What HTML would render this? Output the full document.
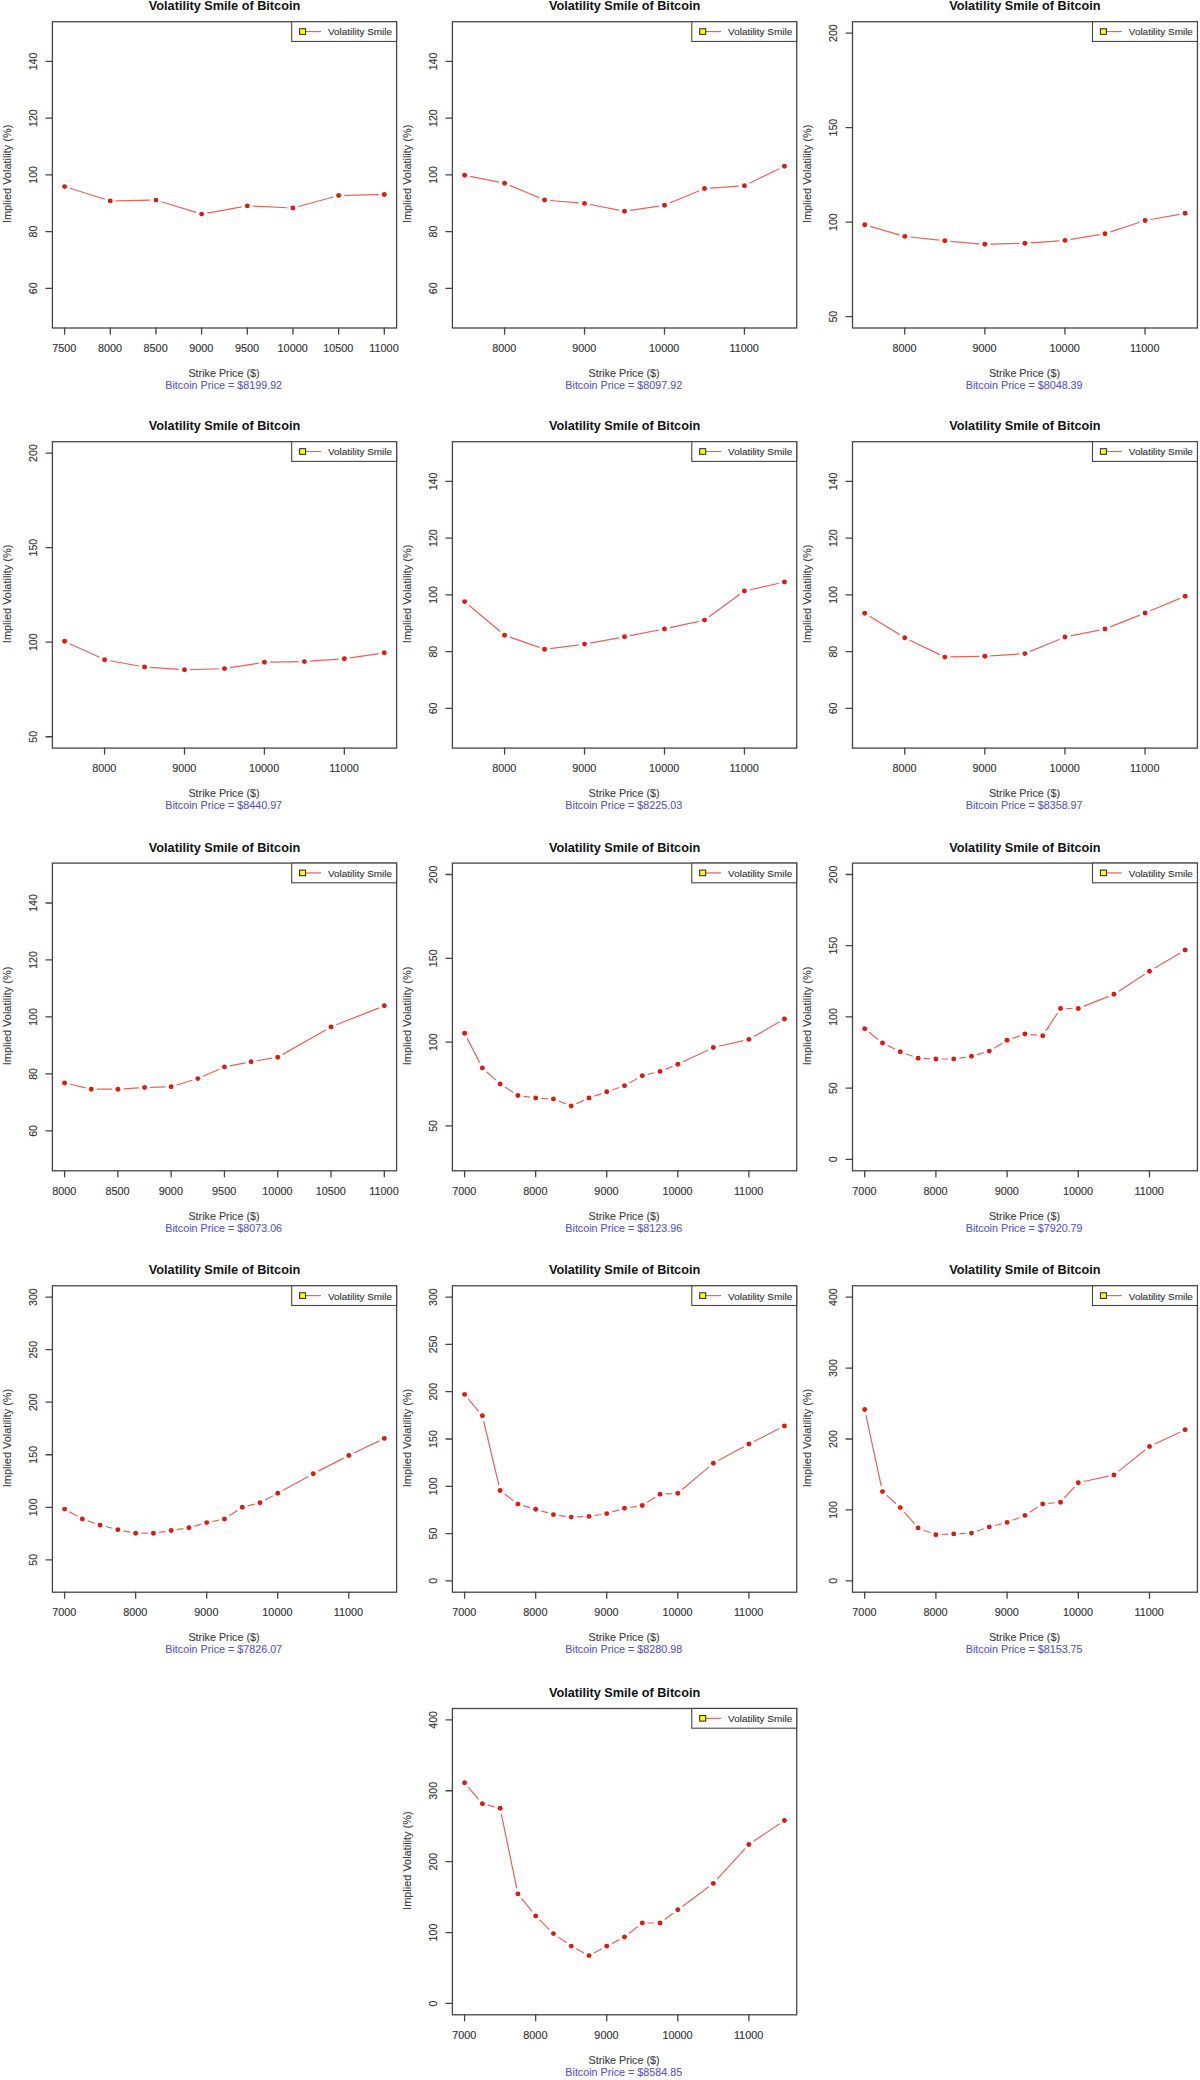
<!DOCTYPE html>
<html><head><meta charset="utf-8"><title>Volatility Smile of Bitcoin</title>
<style>
html,body{margin:0;padding:0;background:#fff;}
body{width:1200px;height:2080px;overflow:hidden;}
svg{display:block;}
text{font-family:"Liberation Sans",sans-serif;}
.t{font-size:12.7px;font-weight:bold;fill:#111111;text-anchor:middle;}
.nx{font-size:10.85px;fill:#333333;stroke:#333333;stroke-width:0.15px;text-anchor:middle;}
.n{font-size:10.65px;fill:#333333;stroke:#333333;stroke-width:0.15px;text-anchor:middle;}
.lb{font-size:10.75px;fill:#404040;stroke:#404040;stroke-width:0.12px;text-anchor:middle;}
.sb{font-size:10.75px;fill:#5858c2;stroke:#5858c2;stroke-width:0.1px;text-anchor:middle;}
.yl{font-size:10.95px;fill:#404040;stroke:#404040;stroke-width:0.12px;text-anchor:middle;}
.le{font-size:9.95px;fill:#333333;stroke:#333333;stroke-width:0.12px;}
.bx{fill:none;stroke:#454545;stroke-width:1.3;}
.ax{fill:none;stroke:#454545;stroke-width:1.3;stroke-linecap:round;}
.lg{fill:#fff;stroke:#454545;stroke-width:1.1;}
.ll{stroke:#e8625a;stroke-width:1.2;fill:none;}
.sq{fill:#ffff00;stroke:#222;stroke-width:1;}
.dl{fill:none;stroke:#e8625a;stroke-width:1.2;}
circle{fill:#dc1a12;}
</style></head>
<body><svg width="1200" height="2080" viewBox="0 0 1200 2080">
<rect width="1200" height="2080" fill="#fff"/>
<g><text x="224.5" y="10.3" class="t">Volatility Smile of Bitcoin</text>
<rect x="52.4" y="21.75" width="344.2" height="306.25" class="bx"/>
<path d="M64.6 328V334M110.27 328V334M155.94 328V334M201.61 328V334M247.29 328V334M292.96 328V334M338.63 328V334M384.3 328V334M52.4 288.3H46M52.4 231.59H46M52.4 174.88H46M52.4 118.16H46M52.4 61.45H46" class="ax"/>
<text x="64.3" y="351.8" class="nx">7500</text>
<text x="109.97" y="351.8" class="nx">8000</text>
<text x="155.64" y="351.8" class="nx">8500</text>
<text x="201.31" y="351.8" class="nx">9000</text>
<text x="246.99" y="351.8" class="nx">9500</text>
<text x="292.66" y="351.8" class="nx">10000</text>
<text x="338.33" y="351.8" class="nx">10500</text>
<text x="384" y="351.8" class="nx">11000</text>
<text transform="translate(36.5 288.3) rotate(-90)" class="n">60</text>
<text transform="translate(36.5 231.59) rotate(-90)" class="n">80</text>
<text transform="translate(36.5 174.88) rotate(-90)" class="n">100</text>
<text transform="translate(36.5 118.16) rotate(-90)" class="n">120</text>
<text transform="translate(36.5 61.45) rotate(-90)" class="n">140</text>
<text x="224" y="376.8" class="lb">Strike Price ($)</text>
<text x="223.7" y="388.9" class="sb">Bitcoin Price = $8199.92</text>
<text transform="translate(11 173.88) rotate(-90)" class="yl">Implied Volatility (%)</text>
<rect x="291.7" y="21.75" width="104.9" height="19.7" class="lg"/>
<path d="M305.6 31.55H321" class="ll"/>
<rect x="299.6" y="28.75" width="6" height="5.6" class="sq"/>
<text x="328" y="35.45" class="le">Volatility Smile</text>
<path d="M70.04 188.3L104.83 199.2M115.97 200.8L150.24 200.2M161.39 201.77L196.16 212.43M207.22 213.09L241.68 206.91M252.98 206.16L287.26 207.74M298.45 206.5L333.13 197M344.33 195.38L378.6 194.62" class="dl"/>
<circle cx="64.6" cy="186.6" r="2.45"/>
<circle cx="110.27" cy="200.9" r="2.45"/>
<circle cx="155.94" cy="200.1" r="2.45"/>
<circle cx="201.61" cy="214.1" r="2.45"/>
<circle cx="247.29" cy="205.9" r="2.45"/>
<circle cx="292.96" cy="208" r="2.45"/>
<circle cx="338.63" cy="195.5" r="2.45"/>
<circle cx="384.3" cy="194.5" r="2.45"/></g>
<g><text x="624.55" y="10.3" class="t">Volatility Smile of Bitcoin</text>
<rect x="452.4" y="21.75" width="344.3" height="306.25" class="bx"/>
<path d="M504.57 328V334M584.52 328V334M664.48 328V334M744.43 328V334M452.4 288.3H446M452.4 231.59H446M452.4 174.88H446M452.4 118.16H446M452.4 61.45H446" class="ax"/>
<text x="504.27" y="351.8" class="nx">8000</text>
<text x="584.23" y="351.8" class="nx">9000</text>
<text x="664.18" y="351.8" class="nx">10000</text>
<text x="744.13" y="351.8" class="nx">11000</text>
<text transform="translate(436.5 288.3) rotate(-90)" class="n">60</text>
<text transform="translate(436.5 231.59) rotate(-90)" class="n">80</text>
<text transform="translate(436.5 174.88) rotate(-90)" class="n">100</text>
<text transform="translate(436.5 118.16) rotate(-90)" class="n">120</text>
<text transform="translate(436.5 61.45) rotate(-90)" class="n">140</text>
<text x="624.05" y="376.8" class="lb">Strike Price ($)</text>
<text x="623.75" y="388.9" class="sb">Bitcoin Price = $8097.92</text>
<text transform="translate(411 173.88) rotate(-90)" class="yl">Implied Volatility (%)</text>
<rect x="691.8" y="21.75" width="104.9" height="19.7" class="lg"/>
<path d="M705.7 31.55H721.1" class="ll"/>
<rect x="699.7" y="28.75" width="6" height="5.6" class="sq"/>
<text x="728.1" y="35.45" class="le">Volatility Smile</text>
<path d="M470.19 176.32L498.99 182.08M509.83 185.41L539.3 197.79M550.23 200.48L578.85 202.92M590.12 204.49L618.91 210.11M630.14 210.35L658.84 206.05M669.73 203L699.19 190.7M710.14 188.1L738.74 186.1M749.55 183.2L779.28 168.7" class="dl"/>
<circle cx="464.6" cy="175.2" r="2.45"/>
<circle cx="504.57" cy="183.2" r="2.45"/>
<circle cx="544.55" cy="200" r="2.45"/>
<circle cx="584.52" cy="203.4" r="2.45"/>
<circle cx="624.5" cy="211.2" r="2.45"/>
<circle cx="664.48" cy="205.2" r="2.45"/>
<circle cx="704.45" cy="188.5" r="2.45"/>
<circle cx="744.43" cy="185.7" r="2.45"/>
<circle cx="784.4" cy="166.2" r="2.45"/></g>
<g><text x="1024.95" y="10.3" class="t">Volatility Smile of Bitcoin</text>
<rect x="852.5" y="21.75" width="344.9" height="306.25" class="bx"/>
<path d="M904.75 328V334M984.85 328V334M1064.95 328V334M1145.05 328V334M852.5 316.66H846.1M852.5 222.14H846.1M852.5 127.61H846.1M852.5 33.09H846.1" class="ax"/>
<text x="904.45" y="351.8" class="nx">8000</text>
<text x="984.55" y="351.8" class="nx">9000</text>
<text x="1064.65" y="351.8" class="nx">10000</text>
<text x="1144.75" y="351.8" class="nx">11000</text>
<text transform="translate(836.6 316.66) rotate(-90)" class="n">50</text>
<text transform="translate(836.6 222.14) rotate(-90)" class="n">100</text>
<text transform="translate(836.6 127.61) rotate(-90)" class="n">150</text>
<text transform="translate(836.6 33.09) rotate(-90)" class="n">200</text>
<text x="1024.45" y="376.8" class="lb">Strike Price ($)</text>
<text x="1024.15" y="388.9" class="sb">Bitcoin Price = $8048.39</text>
<text transform="translate(811.1 173.88) rotate(-90)" class="yl">Implied Volatility (%)</text>
<rect x="1092.5" y="21.75" width="104.9" height="19.7" class="lg"/>
<path d="M1106.4 31.55H1121.8" class="ll"/>
<rect x="1100.4" y="28.75" width="6" height="5.6" class="sq"/>
<text x="1128.8" y="35.45" class="le">Volatility Smile</text>
<path d="M870.17 226.39L899.28 234.81M910.42 237.02L939.13 240.18M950.48 241.3L979.17 243.8M990.55 244.16L1019.2 243.44M1030.59 242.89L1059.26 240.81M1070.57 239.46L1099.38 234.64M1110.41 231.92L1139.64 222.28M1150.66 219.49L1179.49 214.31" class="dl"/>
<circle cx="864.7" cy="224.8" r="2.45"/>
<circle cx="904.75" cy="236.4" r="2.45"/>
<circle cx="944.8" cy="240.8" r="2.45"/>
<circle cx="984.85" cy="244.3" r="2.45"/>
<circle cx="1024.9" cy="243.3" r="2.45"/>
<circle cx="1064.95" cy="240.4" r="2.45"/>
<circle cx="1105" cy="233.7" r="2.45"/>
<circle cx="1145.05" cy="220.5" r="2.45"/>
<circle cx="1185.1" cy="213.3" r="2.45"/></g>
<g><text x="224.5" y="430.25" class="t">Volatility Smile of Bitcoin</text>
<rect x="52.4" y="441.7" width="344.2" height="306.4" class="bx"/>
<path d="M104.56 748.1V754.1M184.49 748.1V754.1M264.41 748.1V754.1M344.34 748.1V754.1M52.4 736.75H46M52.4 642.18H46M52.4 547.62H46M52.4 453.05H46" class="ax"/>
<text x="104.26" y="771.9" class="nx">8000</text>
<text x="184.19" y="771.9" class="nx">9000</text>
<text x="264.11" y="771.9" class="nx">10000</text>
<text x="344.04" y="771.9" class="nx">11000</text>
<text transform="translate(36.5 736.75) rotate(-90)" class="n">50</text>
<text transform="translate(36.5 642.18) rotate(-90)" class="n">100</text>
<text transform="translate(36.5 547.62) rotate(-90)" class="n">150</text>
<text transform="translate(36.5 453.05) rotate(-90)" class="n">200</text>
<text x="224" y="796.9" class="lb">Strike Price ($)</text>
<text x="223.7" y="809" class="sb">Bitcoin Price = $8440.97</text>
<text transform="translate(11 593.9) rotate(-90)" class="yl">Implied Volatility (%)</text>
<rect x="291.7" y="441.7" width="104.9" height="19.7" class="lg"/>
<path d="M305.6 451.5H321" class="ll"/>
<rect x="299.6" y="448.7" width="6" height="5.6" class="sq"/>
<text x="328" y="455.4" class="le">Volatility Smile</text>
<path d="M69.78 643.68L99.38 657.32M110.17 660.72L138.92 665.98M150.21 667.38L178.8 669.32M190.19 669.54L218.75 668.76M230.08 667.7L258.78 663.1M270.11 662.11L298.68 661.69M310.06 661.2L338.65 659.2M349.97 657.95L378.66 653.65" class="dl"/>
<circle cx="64.6" cy="641.3" r="2.45"/>
<circle cx="104.56" cy="659.7" r="2.45"/>
<circle cx="144.53" cy="667" r="2.45"/>
<circle cx="184.49" cy="669.7" r="2.45"/>
<circle cx="224.45" cy="668.6" r="2.45"/>
<circle cx="264.41" cy="662.2" r="2.45"/>
<circle cx="304.38" cy="661.6" r="2.45"/>
<circle cx="344.34" cy="658.8" r="2.45"/>
<circle cx="384.3" cy="652.8" r="2.45"/></g>
<g><text x="624.55" y="430.25" class="t">Volatility Smile of Bitcoin</text>
<rect x="452.4" y="441.7" width="344.3" height="306.4" class="bx"/>
<path d="M504.57 748.1V754.1M584.52 748.1V754.1M664.48 748.1V754.1M744.43 748.1V754.1M452.4 708.38H446M452.4 651.64H446M452.4 594.9H446M452.4 538.16H446M452.4 481.42H446" class="ax"/>
<text x="504.27" y="771.9" class="nx">8000</text>
<text x="584.23" y="771.9" class="nx">9000</text>
<text x="664.18" y="771.9" class="nx">10000</text>
<text x="744.13" y="771.9" class="nx">11000</text>
<text transform="translate(436.5 708.38) rotate(-90)" class="n">60</text>
<text transform="translate(436.5 651.64) rotate(-90)" class="n">80</text>
<text transform="translate(436.5 594.9) rotate(-90)" class="n">100</text>
<text transform="translate(436.5 538.16) rotate(-90)" class="n">120</text>
<text transform="translate(436.5 481.42) rotate(-90)" class="n">140</text>
<text x="624.05" y="796.9" class="lb">Strike Price ($)</text>
<text x="623.75" y="809" class="sb">Bitcoin Price = $8225.03</text>
<text transform="translate(411 593.9) rotate(-90)" class="yl">Implied Volatility (%)</text>
<rect x="691.8" y="441.7" width="104.9" height="19.7" class="lg"/>
<path d="M705.7 451.5H721.1" class="ll"/>
<rect x="699.7" y="448.7" width="6" height="5.6" class="sq"/>
<text x="728.1" y="455.4" class="le">Volatility Smile</text>
<path d="M468.96 605.27L500.21 631.53M509.95 637.1L539.17 647.4M550.2 648.56L578.87 644.84M590.13 643.08L618.89 637.82M630.09 635.69L658.88 630.01M670.04 627.67L698.88 621.33M709.06 616.75L739.82 594.35M749.99 589.75L778.84 583.25" class="dl"/>
<circle cx="464.6" cy="601.6" r="2.45"/>
<circle cx="504.57" cy="635.2" r="2.45"/>
<circle cx="544.55" cy="649.3" r="2.45"/>
<circle cx="584.52" cy="644.1" r="2.45"/>
<circle cx="624.5" cy="636.8" r="2.45"/>
<circle cx="664.48" cy="628.9" r="2.45"/>
<circle cx="704.45" cy="620.1" r="2.45"/>
<circle cx="744.43" cy="591" r="2.45"/>
<circle cx="784.4" cy="582" r="2.45"/></g>
<g><text x="1024.95" y="430.25" class="t">Volatility Smile of Bitcoin</text>
<rect x="852.5" y="441.7" width="344.9" height="306.4" class="bx"/>
<path d="M904.75 748.1V754.1M984.85 748.1V754.1M1064.95 748.1V754.1M1145.05 748.1V754.1M852.5 708.38H846.1M852.5 651.64H846.1M852.5 594.9H846.1M852.5 538.16H846.1M852.5 481.42H846.1" class="ax"/>
<text x="904.45" y="771.9" class="nx">8000</text>
<text x="984.55" y="771.9" class="nx">9000</text>
<text x="1064.65" y="771.9" class="nx">10000</text>
<text x="1144.75" y="771.9" class="nx">11000</text>
<text transform="translate(836.6 708.38) rotate(-90)" class="n">60</text>
<text transform="translate(836.6 651.64) rotate(-90)" class="n">80</text>
<text transform="translate(836.6 594.9) rotate(-90)" class="n">100</text>
<text transform="translate(836.6 538.16) rotate(-90)" class="n">120</text>
<text transform="translate(836.6 481.42) rotate(-90)" class="n">140</text>
<text x="1024.45" y="796.9" class="lb">Strike Price ($)</text>
<text x="1024.15" y="809" class="sb">Bitcoin Price = $8358.97</text>
<text transform="translate(811.1 593.9) rotate(-90)" class="yl">Implied Volatility (%)</text>
<rect x="1092.5" y="441.7" width="104.9" height="19.7" class="lg"/>
<path d="M1106.4 451.5H1121.8" class="ll"/>
<rect x="1100.4" y="448.7" width="6" height="5.6" class="sq"/>
<text x="1128.8" y="455.4" class="le">Volatility Smile</text>
<path d="M869.56 616.18L899.89 634.82M909.88 640.27L939.67 654.63M950.5 656.97L979.15 656.33M990.54 655.83L1019.21 653.97M1030.17 651.42L1059.68 639.18M1070.54 635.88L1099.41 630.12M1110.29 626.89L1139.76 615.11M1150.31 610.8L1179.84 598.4" class="dl"/>
<circle cx="864.7" cy="613.2" r="2.45"/>
<circle cx="904.75" cy="637.8" r="2.45"/>
<circle cx="944.8" cy="657.1" r="2.45"/>
<circle cx="984.85" cy="656.2" r="2.45"/>
<circle cx="1024.9" cy="653.6" r="2.45"/>
<circle cx="1064.95" cy="637" r="2.45"/>
<circle cx="1105" cy="629" r="2.45"/>
<circle cx="1145.05" cy="613" r="2.45"/>
<circle cx="1185.1" cy="596.2" r="2.45"/></g>
<g><text x="224.5" y="851.65" class="t">Volatility Smile of Bitcoin</text>
<rect x="52.4" y="863.1" width="344.2" height="307.7" class="bx"/>
<path d="M64.6 1170.8V1176.8M117.88 1170.8V1176.8M171.17 1170.8V1176.8M224.45 1170.8V1176.8M277.73 1170.8V1176.8M331.02 1170.8V1176.8M384.3 1170.8V1176.8M52.4 1130.91H46M52.4 1073.93H46M52.4 1016.95H46M52.4 959.97H46M52.4 902.99H46" class="ax"/>
<text x="64.3" y="1194.6" class="nx">8000</text>
<text x="117.58" y="1194.6" class="nx">8500</text>
<text x="170.87" y="1194.6" class="nx">9000</text>
<text x="224.15" y="1194.6" class="nx">9500</text>
<text x="277.43" y="1194.6" class="nx">10000</text>
<text x="330.72" y="1194.6" class="nx">10500</text>
<text x="384" y="1194.6" class="nx">11000</text>
<text transform="translate(36.5 1130.91) rotate(-90)" class="n">60</text>
<text transform="translate(36.5 1073.93) rotate(-90)" class="n">80</text>
<text transform="translate(36.5 1016.95) rotate(-90)" class="n">100</text>
<text transform="translate(36.5 959.97) rotate(-90)" class="n">120</text>
<text transform="translate(36.5 902.99) rotate(-90)" class="n">140</text>
<text x="224" y="1219.6" class="lb">Strike Price ($)</text>
<text x="223.7" y="1231.7" class="sb">Bitcoin Price = $8073.06</text>
<text transform="translate(11 1015.95) rotate(-90)" class="yl">Implied Volatility (%)</text>
<rect x="291.7" y="863.1" width="104.9" height="19.7" class="lg"/>
<path d="M305.6 872.9H321" class="ll"/>
<rect x="299.6" y="870.1" width="6" height="5.6" class="sq"/>
<text x="328" y="876.8" class="le">Volatility Smile</text>
<path d="M70.15 1084.29L85.69 1087.91M96.94 1089.2L112.18 1089.2M123.57 1088.84L138.84 1087.86M150.22 1087.33L165.47 1086.87M176.62 1085.04L192.35 1080.26M203.03 1076.31L219.23 1069.19M230.04 1065.81L245.5 1062.79M256.71 1060.75L272.11 1058.15M282.69 1054.38L326.06 1029.72M336.31 1024.8L379 1007.85" class="dl"/>
<circle cx="64.6" cy="1083" r="2.45"/>
<circle cx="91.24" cy="1089.2" r="2.45"/>
<circle cx="117.88" cy="1089.2" r="2.45"/>
<circle cx="144.53" cy="1087.5" r="2.45"/>
<circle cx="171.17" cy="1086.7" r="2.45"/>
<circle cx="197.81" cy="1078.6" r="2.45"/>
<circle cx="224.45" cy="1066.9" r="2.45"/>
<circle cx="251.09" cy="1061.7" r="2.45"/>
<circle cx="277.73" cy="1057.2" r="2.45"/>
<circle cx="331.02" cy="1026.9" r="2.45"/>
<circle cx="384.3" cy="1005.75" r="2.45"/></g>
<g><text x="624.55" y="851.65" class="t">Volatility Smile of Bitcoin</text>
<rect x="452.4" y="863.1" width="344.3" height="307.7" class="bx"/>
<path d="M464.6 1170.8V1176.8M535.67 1170.8V1176.8M606.73 1170.8V1176.8M677.8 1170.8V1176.8M748.87 1170.8V1176.8M452.4 1125.89H446M452.4 1042.09H446M452.4 958.29H446M452.4 874.5H446" class="ax"/>
<text x="464.3" y="1194.6" class="nx">7000</text>
<text x="535.37" y="1194.6" class="nx">8000</text>
<text x="606.43" y="1194.6" class="nx">9000</text>
<text x="677.5" y="1194.6" class="nx">10000</text>
<text x="748.57" y="1194.6" class="nx">11000</text>
<text transform="translate(436.5 1125.89) rotate(-90)" class="n">50</text>
<text transform="translate(436.5 1042.09) rotate(-90)" class="n">100</text>
<text transform="translate(436.5 958.29) rotate(-90)" class="n">150</text>
<text transform="translate(436.5 874.5) rotate(-90)" class="n">200</text>
<text x="624.05" y="1219.6" class="lb">Strike Price ($)</text>
<text x="623.75" y="1231.7" class="sb">Bitcoin Price = $8123.96</text>
<text transform="translate(411 1015.95) rotate(-90)" class="yl">Implied Volatility (%)</text>
<rect x="691.8" y="863.1" width="104.9" height="19.7" class="lg"/>
<path d="M705.7 872.9H721.1" class="ll"/>
<rect x="699.7" y="870.1" width="6" height="5.6" class="sq"/>
<text x="728.1" y="876.8" class="le">Volatility Smile</text>
<path d="M467.2 1038.37L479.76 1062.83M486.59 1071.73L495.91 1080.17M504.92 1087.1L513.11 1092.4M523.54 1096.29L530.02 1097.21M541.36 1098.29L547.74 1098.61M558.73 1101.02L565.91 1103.88M576.4 1103.66L583.77 1100.34M594.35 1096.12L601.35 1093.68M612.12 1089.95L619.11 1087.55M629.47 1082.9L637.3 1078.5M647.81 1074.36L654.49 1072.74M665.32 1069.26L672.52 1066.34M682.96 1061.78L708.17 1049.92M718.89 1046.23L743.31 1040.67M753.81 1036.56L779.46 1021.84" class="dl"/>
<circle cx="464.6" cy="1033.3" r="2.45"/>
<circle cx="482.37" cy="1067.9" r="2.45"/>
<circle cx="500.13" cy="1084" r="2.45"/>
<circle cx="517.9" cy="1095.5" r="2.45"/>
<circle cx="535.67" cy="1098" r="2.45"/>
<circle cx="553.43" cy="1098.9" r="2.45"/>
<circle cx="571.2" cy="1106" r="2.45"/>
<circle cx="588.97" cy="1098" r="2.45"/>
<circle cx="606.73" cy="1091.8" r="2.45"/>
<circle cx="624.5" cy="1085.7" r="2.45"/>
<circle cx="642.27" cy="1075.7" r="2.45"/>
<circle cx="660.03" cy="1071.4" r="2.45"/>
<circle cx="677.8" cy="1064.2" r="2.45"/>
<circle cx="713.33" cy="1047.5" r="2.45"/>
<circle cx="748.87" cy="1039.4" r="2.45"/>
<circle cx="784.4" cy="1019" r="2.45"/></g>
<g><text x="1024.95" y="851.65" class="t">Volatility Smile of Bitcoin</text>
<rect x="852.5" y="863.1" width="344.9" height="307.7" class="bx"/>
<path d="M864.7 1170.8V1176.8M935.9 1170.8V1176.8M1007.1 1170.8V1176.8M1078.3 1170.8V1176.8M1149.5 1170.8V1176.8M852.5 1159.4H846.1M852.5 1088.18H846.1M852.5 1016.95H846.1M852.5 945.72H846.1M852.5 874.5H846.1" class="ax"/>
<text x="864.4" y="1194.6" class="nx">7000</text>
<text x="935.6" y="1194.6" class="nx">8000</text>
<text x="1006.8" y="1194.6" class="nx">9000</text>
<text x="1078" y="1194.6" class="nx">10000</text>
<text x="1149.2" y="1194.6" class="nx">11000</text>
<text transform="translate(836.6 1159.4) rotate(-90)" class="n">0</text>
<text transform="translate(836.6 1088.18) rotate(-90)" class="n">50</text>
<text transform="translate(836.6 1016.95) rotate(-90)" class="n">100</text>
<text transform="translate(836.6 945.72) rotate(-90)" class="n">150</text>
<text transform="translate(836.6 874.5) rotate(-90)" class="n">200</text>
<text x="1024.45" y="1219.6" class="lb">Strike Price ($)</text>
<text x="1024.15" y="1231.7" class="sb">Bitcoin Price = $7920.79</text>
<text transform="translate(811.1 1015.95) rotate(-90)" class="yl">Implied Volatility (%)</text>
<rect x="1092.5" y="863.1" width="104.9" height="19.7" class="lg"/>
<path d="M1106.4 872.9H1121.8" class="ll"/>
<rect x="1100.4" y="870.1" width="6" height="5.6" class="sq"/>
<text x="1128.8" y="876.8" class="le">Volatility Smile</text>
<path d="M869.14 1032.27L878.06 1039.43M887.61 1045.53L895.19 1049.27M905.66 1053.73L912.74 1056.27M923.79 1058.46L930.21 1058.74M941.6 1059L948 1059M959.34 1058.15L965.86 1057.15M976.97 1054.7L983.83 1052.7M994.17 1048.14L1002.23 1043.26M1012.47 1038.4L1019.53 1035.9M1030.57 1034.54L1037.03 1035.16M1045.82 1030.93L1057.38 1013.27M1066.2 1008.5L1072.6 1008.5M1083.59 1006.39L1108.61 996.41M1118.68 991.2L1144.72 974.3M1154.4 968.28L1180.2 952.92" class="dl"/>
<circle cx="864.7" cy="1028.7" r="2.45"/>
<circle cx="882.5" cy="1043" r="2.45"/>
<circle cx="900.3" cy="1051.8" r="2.45"/>
<circle cx="918.1" cy="1058.2" r="2.45"/>
<circle cx="935.9" cy="1059" r="2.45"/>
<circle cx="953.7" cy="1059" r="2.45"/>
<circle cx="971.5" cy="1056.3" r="2.45"/>
<circle cx="989.3" cy="1051.1" r="2.45"/>
<circle cx="1007.1" cy="1040.3" r="2.45"/>
<circle cx="1024.9" cy="1034" r="2.45"/>
<circle cx="1042.7" cy="1035.7" r="2.45"/>
<circle cx="1060.5" cy="1008.5" r="2.45"/>
<circle cx="1078.3" cy="1008.5" r="2.45"/>
<circle cx="1113.9" cy="994.3" r="2.45"/>
<circle cx="1149.5" cy="971.2" r="2.45"/>
<circle cx="1185.1" cy="950" r="2.45"/></g>
<g><text x="224.5" y="1274.35" class="t">Volatility Smile of Bitcoin</text>
<rect x="52.4" y="1285.8" width="344.2" height="306.4" class="bx"/>
<path d="M64.6 1592.2V1598.2M135.64 1592.2V1598.2M206.69 1592.2V1598.2M277.73 1592.2V1598.2M348.78 1592.2V1598.2M52.4 1559.84H46M52.4 1507.3H46M52.4 1454.76H46M52.4 1402.22H46M52.4 1349.69H46M52.4 1297.15H46" class="ax"/>
<text x="64.3" y="1616" class="nx">7000</text>
<text x="135.34" y="1616" class="nx">8000</text>
<text x="206.39" y="1616" class="nx">9000</text>
<text x="277.43" y="1616" class="nx">10000</text>
<text x="348.48" y="1616" class="nx">11000</text>
<text transform="translate(36.5 1559.84) rotate(-90)" class="n">50</text>
<text transform="translate(36.5 1507.3) rotate(-90)" class="n">100</text>
<text transform="translate(36.5 1454.76) rotate(-90)" class="n">150</text>
<text transform="translate(36.5 1402.22) rotate(-90)" class="n">200</text>
<text transform="translate(36.5 1349.69) rotate(-90)" class="n">250</text>
<text transform="translate(36.5 1297.15) rotate(-90)" class="n">300</text>
<text x="224" y="1641" class="lb">Strike Price ($)</text>
<text x="223.7" y="1653.1" class="sb">Bitcoin Price = $7826.07</text>
<text transform="translate(11 1438) rotate(-90)" class="yl">Implied Volatility (%)</text>
<rect x="291.7" y="1285.8" width="104.9" height="19.7" class="lg"/>
<path d="M305.6 1295.6H321" class="ll"/>
<rect x="299.6" y="1292.8" width="6" height="5.6" class="sq"/>
<text x="328" y="1299.5" class="le">Volatility Smile</text>
<path d="M69.58 1511.88L77.38 1516.22M87.75 1520.85L94.73 1523.25M105.64 1526.53L112.37 1528.27M123.48 1530.8L130.05 1532.1M141.34 1533.2L147.71 1533.2M159.04 1532.34L165.53 1531.36M176.8 1529.64L183.29 1528.66M194.4 1526.2L201.22 1524.2M212.28 1521.47L218.86 1520.13M229.21 1515.86L237.45 1510.44M247.74 1505.9L254.45 1504.2M264.99 1500.09L272.72 1495.91M282.73 1490.46L308.26 1476.44M318.33 1471.1L343.7 1458.1M353.91 1453.03L379.16 1440.87" class="dl"/>
<circle cx="64.6" cy="1509.1" r="2.45"/>
<circle cx="82.36" cy="1519" r="2.45"/>
<circle cx="100.12" cy="1525.1" r="2.45"/>
<circle cx="117.88" cy="1529.7" r="2.45"/>
<circle cx="135.64" cy="1533.2" r="2.45"/>
<circle cx="153.41" cy="1533.2" r="2.45"/>
<circle cx="171.17" cy="1530.5" r="2.45"/>
<circle cx="188.93" cy="1527.8" r="2.45"/>
<circle cx="206.69" cy="1522.6" r="2.45"/>
<circle cx="224.45" cy="1519" r="2.45"/>
<circle cx="242.21" cy="1507.3" r="2.45"/>
<circle cx="259.97" cy="1502.8" r="2.45"/>
<circle cx="277.73" cy="1493.2" r="2.45"/>
<circle cx="313.26" cy="1473.7" r="2.45"/>
<circle cx="348.78" cy="1455.5" r="2.45"/>
<circle cx="384.3" cy="1438.4" r="2.45"/></g>
<g><text x="624.55" y="1274.35" class="t">Volatility Smile of Bitcoin</text>
<rect x="452.4" y="1285.8" width="344.3" height="306.4" class="bx"/>
<path d="M464.6 1592.2V1598.2M535.67 1592.2V1598.2M606.73 1592.2V1598.2M677.8 1592.2V1598.2M748.87 1592.2V1598.2M452.4 1580.85H446M452.4 1533.57H446M452.4 1486.28H446M452.4 1439H446M452.4 1391.72H446M452.4 1344.43H446M452.4 1297.15H446" class="ax"/>
<text x="464.3" y="1616" class="nx">7000</text>
<text x="535.37" y="1616" class="nx">8000</text>
<text x="606.43" y="1616" class="nx">9000</text>
<text x="677.5" y="1616" class="nx">10000</text>
<text x="748.57" y="1616" class="nx">11000</text>
<text transform="translate(436.5 1580.85) rotate(-90)" class="n">0</text>
<text transform="translate(436.5 1533.57) rotate(-90)" class="n">50</text>
<text transform="translate(436.5 1486.28) rotate(-90)" class="n">100</text>
<text transform="translate(436.5 1439) rotate(-90)" class="n">150</text>
<text transform="translate(436.5 1391.72) rotate(-90)" class="n">200</text>
<text transform="translate(436.5 1344.43) rotate(-90)" class="n">250</text>
<text transform="translate(436.5 1297.15) rotate(-90)" class="n">300</text>
<text x="624.05" y="1641" class="lb">Strike Price ($)</text>
<text x="623.75" y="1653.1" class="sb">Bitcoin Price = $8280.98</text>
<text transform="translate(411 1438) rotate(-90)" class="yl">Implied Volatility (%)</text>
<rect x="691.8" y="1285.8" width="104.9" height="19.7" class="lg"/>
<path d="M705.7 1295.6H721.1" class="ll"/>
<rect x="699.7" y="1292.8" width="6" height="5.6" class="sq"/>
<text x="728.1" y="1299.5" class="le">Volatility Smile</text>
<path d="M468.25 1398.78L478.72 1411.32M483.68 1421.25L498.82 1484.95M504.66 1493.96L513.37 1500.64M523.38 1505.67L530.19 1507.63M541.12 1510.86L547.98 1512.94M559.08 1515.39L565.56 1516.31M576.9 1516.88L583.27 1516.62M594.6 1515.51L601.1 1514.49M612.19 1511.94L619.05 1509.86M630.14 1507.34L636.63 1506.36M647.09 1502.46L655.21 1497.34M665.72 1493.95L672.11 1493.55M682.16 1489.52L708.98 1466.88M718.35 1460.49L743.85 1446.71M753.95 1441.42L779.32 1428.58" class="dl"/>
<circle cx="464.6" cy="1394.4" r="2.45"/>
<circle cx="482.37" cy="1415.7" r="2.45"/>
<circle cx="500.13" cy="1490.5" r="2.45"/>
<circle cx="517.9" cy="1504.1" r="2.45"/>
<circle cx="535.67" cy="1509.2" r="2.45"/>
<circle cx="553.43" cy="1514.6" r="2.45"/>
<circle cx="571.2" cy="1517.1" r="2.45"/>
<circle cx="588.97" cy="1516.4" r="2.45"/>
<circle cx="606.73" cy="1513.6" r="2.45"/>
<circle cx="624.5" cy="1508.2" r="2.45"/>
<circle cx="642.27" cy="1505.5" r="2.45"/>
<circle cx="660.03" cy="1494.3" r="2.45"/>
<circle cx="677.8" cy="1493.2" r="2.45"/>
<circle cx="713.33" cy="1463.2" r="2.45"/>
<circle cx="748.87" cy="1444" r="2.45"/>
<circle cx="784.4" cy="1426" r="2.45"/></g>
<g><text x="1024.95" y="1274.35" class="t">Volatility Smile of Bitcoin</text>
<rect x="852.5" y="1285.8" width="344.9" height="306.4" class="bx"/>
<path d="M864.7 1592.2V1598.2M935.9 1592.2V1598.2M1007.1 1592.2V1598.2M1078.3 1592.2V1598.2M1149.5 1592.2V1598.2M852.5 1580.85H846.1M852.5 1509.93H846.1M852.5 1439H846.1M852.5 1368.07H846.1M852.5 1297.15H846.1" class="ax"/>
<text x="864.4" y="1616" class="nx">7000</text>
<text x="935.6" y="1616" class="nx">8000</text>
<text x="1006.8" y="1616" class="nx">9000</text>
<text x="1078" y="1616" class="nx">10000</text>
<text x="1149.2" y="1616" class="nx">11000</text>
<text transform="translate(836.6 1580.85) rotate(-90)" class="n">0</text>
<text transform="translate(836.6 1509.93) rotate(-90)" class="n">100</text>
<text transform="translate(836.6 1439) rotate(-90)" class="n">200</text>
<text transform="translate(836.6 1368.07) rotate(-90)" class="n">300</text>
<text transform="translate(836.6 1297.15) rotate(-90)" class="n">400</text>
<text x="1024.45" y="1641" class="lb">Strike Price ($)</text>
<text x="1024.15" y="1653.1" class="sb">Bitcoin Price = $8153.75</text>
<text transform="translate(811.1 1438) rotate(-90)" class="yl">Implied Volatility (%)</text>
<rect x="1092.5" y="1285.8" width="104.9" height="19.7" class="lg"/>
<path d="M1106.4 1295.6H1121.8" class="ll"/>
<rect x="1100.4" y="1292.8" width="6" height="5.6" class="sq"/>
<text x="1128.8" y="1299.5" class="le">Volatility Smile</text>
<path d="M865.91 1415.07L881.29 1486.03M886.74 1495.41L896.06 1503.79M904.06 1511.89L914.34 1523.61M923.41 1529.96L930.59 1532.74M941.59 1534.51L948.01 1534.19M959.39 1533.64L965.81 1533.36M976.88 1531.23L983.92 1528.77M994.83 1525.5L1001.57 1523.8M1012.4 1520.31L1019.6 1517.49M1029.7 1512.33L1037.9 1507.07M1048.37 1503.43L1054.83 1502.77M1064.34 1497.99L1074.46 1486.91M1083.87 1481.48L1108.33 1476.12M1118.36 1471.35L1145.04 1450.05M1154.66 1444.07L1179.94 1432.18" class="dl"/>
<circle cx="864.7" cy="1409.5" r="2.45"/>
<circle cx="882.5" cy="1491.6" r="2.45"/>
<circle cx="900.3" cy="1507.6" r="2.45"/>
<circle cx="918.1" cy="1527.9" r="2.45"/>
<circle cx="935.9" cy="1534.8" r="2.45"/>
<circle cx="953.7" cy="1533.9" r="2.45"/>
<circle cx="971.5" cy="1533.1" r="2.45"/>
<circle cx="989.3" cy="1526.9" r="2.45"/>
<circle cx="1007.1" cy="1522.4" r="2.45"/>
<circle cx="1024.9" cy="1515.4" r="2.45"/>
<circle cx="1042.7" cy="1504" r="2.45"/>
<circle cx="1060.5" cy="1502.2" r="2.45"/>
<circle cx="1078.3" cy="1482.7" r="2.45"/>
<circle cx="1113.9" cy="1474.9" r="2.45"/>
<circle cx="1149.5" cy="1446.5" r="2.45"/>
<circle cx="1185.1" cy="1429.75" r="2.45"/></g>
<g><text x="624.55" y="1697.05" class="t">Volatility Smile of Bitcoin</text>
<rect x="452.4" y="1708.5" width="344.3" height="306.3" class="bx"/>
<path d="M464.6 2014.8V2020.8M535.67 2014.8V2020.8M606.73 2014.8V2020.8M677.8 2014.8V2020.8M748.87 2014.8V2020.8M452.4 2003.46H446M452.4 1932.55H446M452.4 1861.65H446M452.4 1790.75H446M452.4 1719.84H446" class="ax"/>
<text x="464.3" y="2038.6" class="nx">7000</text>
<text x="535.37" y="2038.6" class="nx">8000</text>
<text x="606.43" y="2038.6" class="nx">9000</text>
<text x="677.5" y="2038.6" class="nx">10000</text>
<text x="748.57" y="2038.6" class="nx">11000</text>
<text transform="translate(436.5 2003.46) rotate(-90)" class="n">0</text>
<text transform="translate(436.5 1932.55) rotate(-90)" class="n">100</text>
<text transform="translate(436.5 1861.65) rotate(-90)" class="n">200</text>
<text transform="translate(436.5 1790.75) rotate(-90)" class="n">300</text>
<text transform="translate(436.5 1719.84) rotate(-90)" class="n">400</text>
<text x="624.05" y="2063.6" class="lb">Strike Price ($)</text>
<text x="623.75" y="2075.7" class="sb">Bitcoin Price = $8584.85</text>
<text transform="translate(411 1860.65) rotate(-90)" class="yl">Implied Volatility (%)</text>
<rect x="691.8" y="1708.5" width="104.9" height="19.7" class="lg"/>
<path d="M705.7 1718.3H721.1" class="ll"/>
<rect x="699.7" y="1715.5" width="6" height="5.6" class="sq"/>
<text x="728.1" y="1722.2" class="le">Volatility Smile</text>
<path d="M468.28 1787.05L478.69 1799.35M487.89 1805.1L494.61 1806.8M501.29 1813.78L516.74 1888.32M521.48 1898.33L532.09 1911.47M539.7 1919.92L549.4 1929.58M558.1 1936.88L566.54 1942.82M576.23 1948.79L583.94 1952.91M593.99 1952.91L601.71 1948.79M611.81 1943.5L619.43 1939.6M628.98 1933.47L637.79 1926.53M647.97 1923L654.33 1923M664.61 1919.6L673.22 1913.2M682.38 1906.4L708.76 1886.8M717.18 1879.19L745.02 1848.71M753.59 1841.31L779.68 1823.69" class="dl"/>
<circle cx="464.6" cy="1782.7" r="2.45"/>
<circle cx="482.37" cy="1803.7" r="2.45"/>
<circle cx="500.13" cy="1808.2" r="2.45"/>
<circle cx="517.9" cy="1893.9" r="2.45"/>
<circle cx="535.67" cy="1915.9" r="2.45"/>
<circle cx="553.43" cy="1933.6" r="2.45"/>
<circle cx="571.2" cy="1946.1" r="2.45"/>
<circle cx="588.97" cy="1955.6" r="2.45"/>
<circle cx="606.73" cy="1946.1" r="2.45"/>
<circle cx="624.5" cy="1937" r="2.45"/>
<circle cx="642.27" cy="1923" r="2.45"/>
<circle cx="660.03" cy="1923" r="2.45"/>
<circle cx="677.8" cy="1909.8" r="2.45"/>
<circle cx="713.33" cy="1883.4" r="2.45"/>
<circle cx="748.87" cy="1844.5" r="2.45"/>
<circle cx="784.4" cy="1820.5" r="2.45"/></g>
</svg></body></html>
